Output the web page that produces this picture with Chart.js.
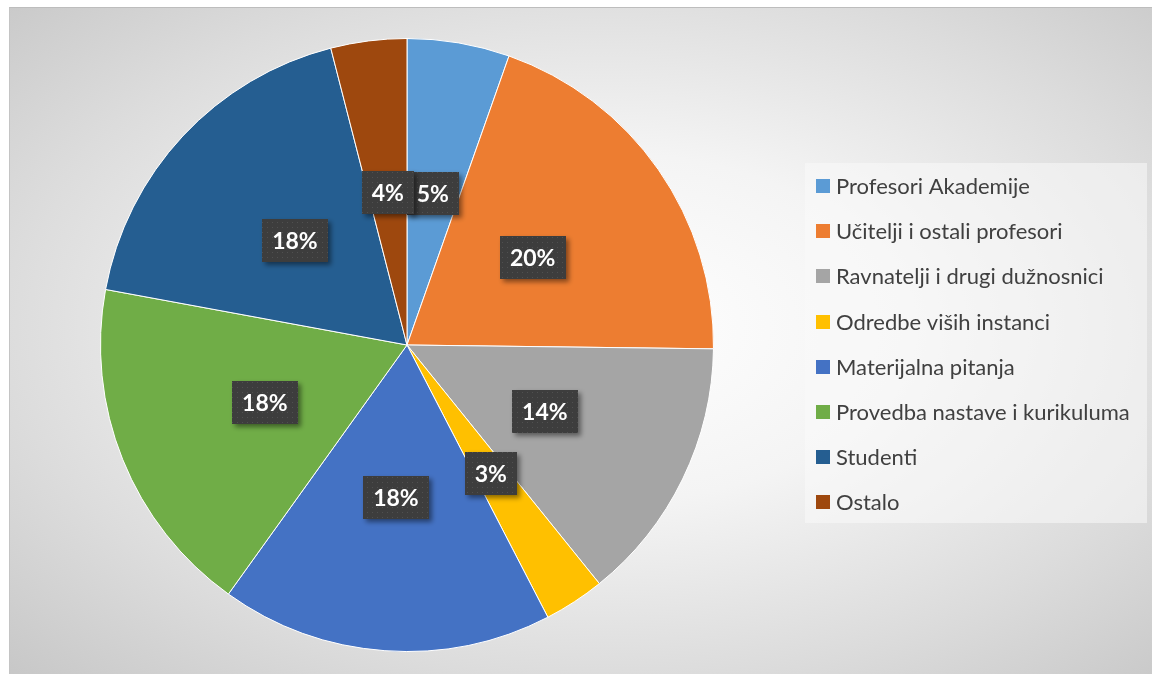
<!DOCTYPE html>
<html>
<head>
<meta charset="utf-8">
<script src="https://cdn.jsdelivr.net/npm/chart.js@4/dist/chart.umd.min.js"></script>
<style>
  html, body { margin: 0; padding: 0; background: #ffffff; }
  body { width: 1152px; height: 674px; position: relative; overflow: hidden; }
  #bg { position: absolute; left: 9px; top: 7px; width: 1143px; height: 667px;
        background: radial-gradient(ellipse 75% 75% at 52% 48%, #ffffff 0%, #f4f4f4 35%, #dcdcdc 70%, #c6c6c6 100%);
        border-top: 1px solid #bdbdbd; border-left: 1px solid #c4c4c4; box-sizing: border-box; }
  #wrap { position: absolute; left: 0; top: 0; width: 1152px; height: 674px; }
</style>
</head>
<body>
<div id="bg"></div>
<div id="wrap"><canvas id="c" width="1152" height="674"></canvas></div>
<script>
const categories = [
  'Profesori Akademije',
  'Učitelji i ostali profesori',
  'Ravnatelji i drugi dužnosnici',
  'Odredbe viših instanci',
  'Materijalna pitanja',
  'Provedba nastave i kurikuluma',
  'Studenti',
  'Ostalo'
];
const shares = [5.4, 19.8, 14.0, 3.2, 17.5, 18.0, 18.1, 4.0];
const percentLabels = ['5%', '20%', '14%', '3%', '18%', '18%', '18%', '4%'];
const sliceColors = ['#5B9BD5', '#ED7D31', '#A5A5A5', '#FFC000', '#4472C4', '#70AD47', '#255E91', '#9E480E'];

function makePattern(ctx) {
  const p = document.createElement('canvas');
  p.width = 5; p.height = 5;
  const pc = p.getContext('2d');
  pc.fillStyle = '#3d3d3d';
  pc.fillRect(0, 0, 5, 5);
  pc.fillStyle = '#505050';
  pc.fillRect(2, 2, 1, 1);
  return ctx.createPattern(p, 'repeat');
}

const labelPlugin = {
  id: 'sliceLabels',
  afterDatasetsDraw(chart) {
    const ctx = chart.ctx;
    const meta = chart.getDatasetMeta(0);
    const pat = makePattern(ctx);
    ctx.save();
    ctx.font = 'bold 23px Lato, "Open Sans", sans-serif';
    ctx.textAlign = 'center';
    ctx.textBaseline = 'middle';
    meta.data.forEach((arc, i) => {
      const pt = arc.getCenterPoint();
      const txt = percentLabels[i];
      const w = ctx.measureText(txt).width + 20;
      const h = 43;
      ctx.save();
      ctx.shadowColor = 'rgba(0,0,0,0.45)';
      ctx.shadowBlur = 5;
      ctx.shadowOffsetX = 3;
      ctx.shadowOffsetY = 3;
      ctx.fillStyle = pat;
      ctx.fillRect(Math.round(pt.x - w / 2), Math.round(pt.y - h / 2), Math.round(w), h);
      ctx.restore();
      ctx.fillStyle = '#ffffff';
      ctx.fillText(txt, pt.x, pt.y + 1);
    });
    ctx.restore();
  }
};

const legendPlugin = {
  id: 'customLegend',
  afterDraw(chart) {
    const ctx = chart.ctx;
    const x0 = 805, y0 = 163, w = 342, h = 360;
    ctx.save();
    ctx.fillStyle = 'rgba(250,250,250,0.55)';
    ctx.fillRect(x0, y0, w, h);
    ctx.font = '22px Lato, "Open Sans", sans-serif';
    ctx.textBaseline = 'middle';
    ctx.textAlign = 'left';
    const ds = chart.data.datasets[0];
    chart.data.labels.forEach((lab, i) => {
      const cy = 186 + i * 45.2;
      ctx.fillStyle = ds.backgroundColor[i];
      ctx.fillRect(816, Math.round(cy - 7), 14, 14);
      ctx.fillStyle = '#404040';
      ctx.fillText(lab, 836, cy + 1);
    });
    ctx.restore();
  }
};

new Chart(document.getElementById('c'), {
  type: 'pie',
  data: {
    labels: categories,
    datasets: [{
      data: shares,
      backgroundColor: sliceColors,
      borderColor: '#ffffff',
      borderWidth: 1
    }]
  },
  options: {
    responsive: false,
    animation: false,
    layout: { padding: { left: 100, right: 438, top: 38, bottom: 22 } },
    plugins: {
      legend: { display: false },
      tooltip: { enabled: false }
    }
  },
  plugins: [labelPlugin, legendPlugin]
});
</script>
</body>
</html>
